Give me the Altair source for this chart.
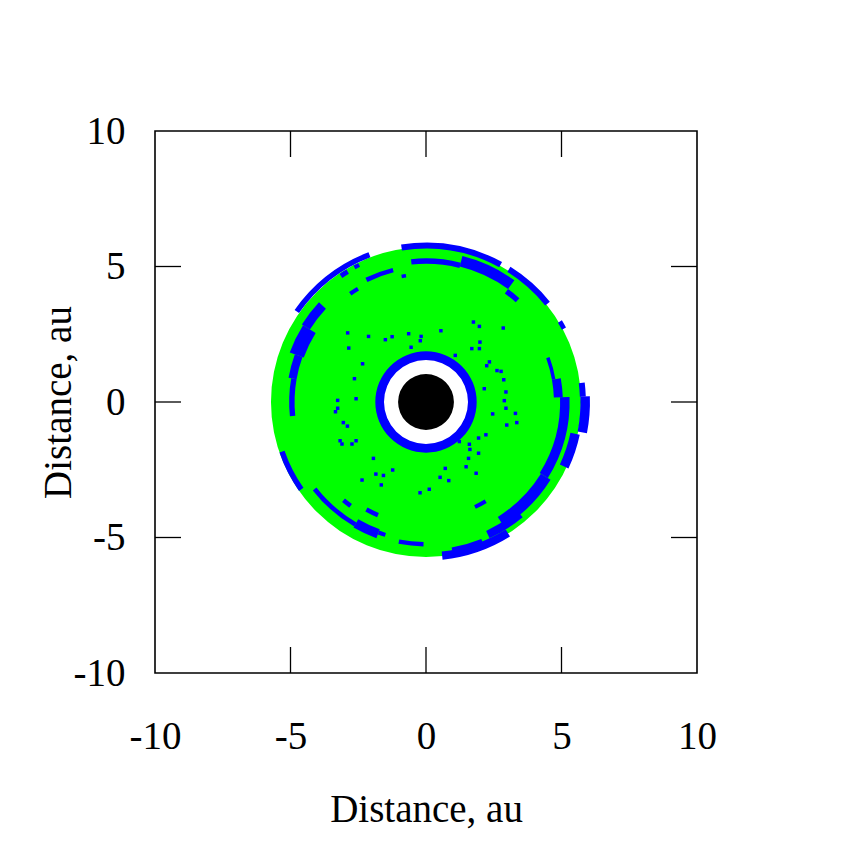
import altair as alt
import pandas as pd

# ---- data (au, degrees clockwise from +y axis) ----
tick_vals = [-5, 0, 5]
axis_vals = [-10, -5, 0, 5, 10]

green_r = [1.7, 5.72]
ring_r = [1.55, 1.87]
core_r = [0.0, 1.03]

arc_t1 = [-9, 32, 59, 83, 88, 102, 148, 158, 235, 305, 326, 332,
          -6, 14, 36, 70, 80, 88, 122, 140, 181, 197, 200, 210,
          264, 280, 290, 302, 334,
          216, 203, 149, 325, 349]
arc_t2 = [28.5, 51, 62, 88, 101, 115, 174, 170, 251, 339, 329, 334,
          14, 36, 42, 80, 88, 122, 148, 155, 191, 200, 210, 232,
          280, 290, 302, 313, 346,
          220, 209, 155, 329, 351]
arc_r1 = [5.66, 5.66, 5.68, 5.68, 5.7, 5.45, 5.55, 5.45, 5.52, 5.72, 5.52, 5.55,
          5.1, 5.15, 4.95, 4.72, 4.72, 4.95, 5.0, 5.25, 5.17, 5.05, 5.0, 5.13,
          4.85, 4.85, 4.8, 5.05, 4.93,
          4.65, 4.45, 4.2, 4.8, 4.65]
arc_r2 = [5.88, 5.88, 5.85, 5.9, 6.05, 5.8, 5.85, 5.6, 5.72, 5.92, 5.7, 5.7,
          5.3, 5.55, 5.15, 4.85, 5.05, 5.3, 5.42, 5.55, 5.33, 5.2, 5.35, 5.3,
          5.05, 5.15, 5.35, 5.4, 5.1,
          4.82, 4.62, 4.35, 4.95, 4.78]

dot_x = [-2.89, -2.12, -1.50, -1.25, -0.64, -0.18, -0.21, -0.55, -2.85, -2.34, -2.64, -3.26, -2.58,
         0.55, 1.75, 1.97, 2.85, 1.99, 1.97, 1.69, 1.08, 2.34, 2.24, 2.62, 2.77, 2.87, 2.15, 2.95, 2.89,
         -3.26, -3.34, -3.05, -2.90, -3.17, -3.10, -2.73, -2.58, -1.94, -1.85, -1.57, -1.23, -2.36, -1.65, -0.22, 0.12,
         2.95, 3.30, 2.98, 3.35, 2.46, 2.21, 1.94, 1.60, 1.62, 1.94, 1.57, 1.48, 0.71, 0.52, 0.84, 1.85, 1.23]
dot_y = [2.55, 2.42, 2.30, 2.41, 2.52, 2.42, 2.26, 2.02, 1.99, 1.41, 0.86, 0.06, 0.12,
         2.63, 2.95, 2.79, 2.73, 2.21, 1.97, 1.97, 1.72, 1.48, 1.34, 1.16, 1.13, 0.82, 0.49, 0.37, 0.05,
         -0.23, -0.36, -0.76, -0.89, -1.43, -1.55, -1.55, -1.43, -2.08, -2.66, -2.71, -2.51, -2.88, -3.06, -3.35, -3.22,
         -0.23, -0.42, -0.85, -0.76, -0.44, -1.21, -1.33, -1.56, -1.75, -1.89, -2.08, -2.39, -2.45, -2.78, -2.90, -2.63, -1.46]

W = 542
FONT = "Liberation Serif"
FS = 39

arcs = pd.DataFrame({"t1": arc_t1, "t2": arc_t2, "r1": arc_r1, "r2": arc_r2})
disks = pd.DataFrame({
    "t1": [0, 0, 0], "t2": [360, 360, 360],
    "r1": [green_r[0], ring_r[0], core_r[0]],
    "r2": [green_r[1], ring_r[1], core_r[1]],
    "kind": ["green", "ring", "core"],
})
dots = pd.DataFrame({"x": dot_x, "y": dot_y})
ticks = pd.DataFrame({"v": tick_vals})

xscale = alt.Scale(domain=[-10, 10], nice=False, zero=False)
yscale = alt.Scale(domain=[-10, 10], nice=False, zero=False)
tscale = alt.Scale(domain=[0, 360], range=[0, 6.283185307])
rscale = alt.Scale(type="linear", domain=[0, 10], range=[0, W / 2], zero=True)

xaxis = alt.Axis(values=axis_vals, title="Distance, au", grid=False, ticks=False, domain=False,
                 labelPadding=44, titlePadding=34, labelFlush=False,
                 labelExpr="'' + datum.value")
yaxis = alt.Axis(values=axis_vals, title="Distance, au", grid=False, ticks=False, domain=False,
                 labelPadding=30, titlePadding=-5, labelFlush=False,
                 labelExpr="'' + datum.value")

base_xy = dict(
    x=alt.X("x:Q", scale=xscale, axis=xaxis),
    y=alt.Y("y:Q", scale=yscale, axis=yaxis),
)

def arc_layer(df, color):
    return alt.Chart(df).mark_arc(color=color, strokeWidth=0).encode(
        theta=alt.Theta("t1:Q", scale=tscale, stack=False),
        theta2="t2:Q",
        radius=alt.Radius("r1:Q", scale=rscale),
        radius2="r2:Q",
    )

green = arc_layer(disks[disks.kind == "green"], "#00ff00")
blue_arcs = arc_layer(arcs, "#0000ff")
ring = arc_layer(disks[disks.kind == "ring"], "#0000ff")
core = arc_layer(disks[disks.kind == "core"], "#000000")

dot_layer = alt.Chart(dots).mark_square(color="#0000ff", size=12, opacity=1).encode(**base_xy)

rule = dict(color="black", strokeWidth=1.3)
tick_b = alt.Chart(ticks).mark_rule(**rule).encode(
    x=alt.X("v:Q", scale=xscale), y=alt.value(W), y2=alt.value(W - 26))
tick_t = alt.Chart(ticks).mark_rule(**rule).encode(
    x=alt.X("v:Q", scale=xscale), y=alt.value(0), y2=alt.value(26))
tick_l = alt.Chart(ticks).mark_rule(**rule).encode(
    y=alt.Y("v:Q", scale=yscale), x=alt.value(0), x2=alt.value(26))
tick_r = alt.Chart(ticks).mark_rule(**rule).encode(
    y=alt.Y("v:Q", scale=yscale), x=alt.value(W), x2=alt.value(W - 26))

chart = alt.layer(
    dot_layer, green, blue_arcs, ring, core, dot_layer,
    tick_b, tick_t, tick_l, tick_r,
).properties(
    width=W, height=W,
    autosize=alt.AutoSizeParams(type="none"),
    padding={"left": 147, "top": 123, "right": 130, "bottom": 160},
    background="white",
).configure_view(
    stroke="black", strokeWidth=1.6,
).configure_axis(
    labelFont=FONT, labelFontSize=FS, labelColor="black",
    titleFont=FONT, titleFontSize=FS, titleColor="black", titleFontWeight="normal",
)

chart.save("out.html", embed_options={"renderer": "svg", "actions": False})
